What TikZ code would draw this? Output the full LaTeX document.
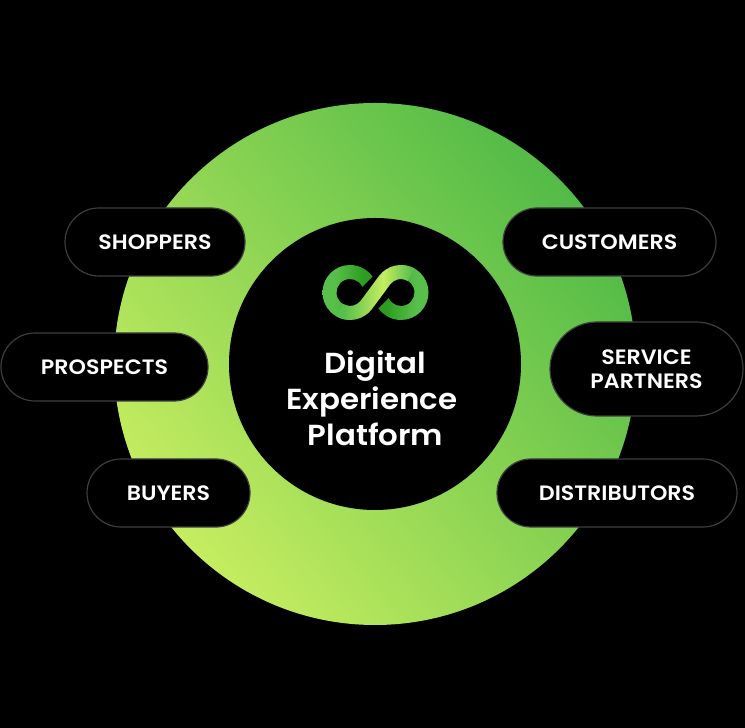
\documentclass[tikz,border=0pt]{standalone}
\usepackage{fontspec}
\setmainfont{Poppins}[FakeStretch=1.065,BoldFont={Poppins SemiBold}]
\usetikzlibrary{shapes.misc}
\definecolor{lg}{HTML}{58C04A}
\definecolor{dg}{HTML}{2C9D20}
\definecolor{lt}{HTML}{C6ED60}
\definecolor{tr}{HTML}{52BB47}
\definecolor{pillline}{HTML}{3E3E3E}
\pgfdeclarehorizontalshading{logoA}{100bp}{color(0bp)=(lg);color(37bp)=(lg);color(66bp)=(dg);color(100bp)=(dg)}
\pgfdeclarehorizontalshading{logoC}{100bp}{color(0bp)=(dg);color(33bp)=(dg);color(63bp)=(lg);color(100bp)=(lg)}
\pgfdeclarehorizontalshading{logoB}{100bp}{color(0bp)=(lg);color(30bp)=(lg);color(55bp)=(lt);color(73bp)=(lg);color(100bp)=(lg)}
\tikzset{
  pill/.style={rounded rectangle,draw=pillline,line width=1.2pt,fill=black,text=white,inner sep=0pt,align=center,
    font=\fontsize{20.8}{24}\selectfont\bfseries},
}
\begin{document}
\begin{tikzpicture}[x=1pt,y=1pt]
\fill[black] (0,0) rectangle (745,728);
\useasboundingbox (0,0) rectangle (745,728);
\shade[top color=tr,bottom color=lt,shading angle=-50] (375,364) circle[radius=261];
\fill[black] (375,364) circle[radius=146];
% logo
\coordinate (L) at (350,435.5);
\coordinate (R) at (401,435.5);
\fill[shading=logoA,draw=none] ([shift={(270:27.5)}]L) arc[start angle=270,end angle=35,radius=27.5]
  -- ([shift={(25:13.5)}]L) arc[start angle=25,end angle=270,radius=13.5] -- cycle;
\fill[shading=logoC,draw=none] ([shift={(90:27.5)}]R) arc[start angle=90,end angle=-145,radius=27.5]
  -- ([shift={(-155:13.5)}]R) arc[start angle=-155,end angle=90,radius=13.5] -- cycle;
\shade[shading=logoB] ([shift={(240:13.5)}]L) arc[start angle=240,end angle=323.5,radius=13.5]
  -- ([shift={(143.5:27.5)}]R) arc[start angle=143.5,end angle=60,radius=27.5]
  -- ([shift={(60:13.5)}]R) arc[start angle=60,end angle=143.5,radius=13.5]
  -- ([shift={(323.5:27.5)}]L) arc[start angle=323.5,end angle=240,radius=27.5] -- cycle;
\node[text=white,align=center,font=\fontsize{29}{36}\selectfont\bfseries] (title) at (375.5,330) {Digital\\Experience\hbox to 7pt{}\\Platform};
\node[pill,minimum width=180pt,minimum height=68pt] (shoppers) at (155,486) {\raisebox{-.7pt}{SHOPPERS}};
\node[pill,minimum width=213pt,minimum height=68pt] (customers) at (609.5,486) {\raisebox{-.7pt}{CUSTOMERS}};
\node[pill,minimum width=207pt,minimum height=68pt] (prospects) at (104.5,361) {\raisebox{-.7pt}{PROSPECTS}};
\node[pill,minimum width=193pt,minimum height=94pt] (service) at (646.5,359) {SERVICE\\PARTNERS};
\node[pill,minimum width=163pt,minimum height=68pt] (buyers) at (168.5,235) {BUYERS};
\node[pill,minimum width=240pt,minimum height=68pt] (distributors) at (617,235) {DISTRIBUTORS};
\end{tikzpicture}
\end{document}
